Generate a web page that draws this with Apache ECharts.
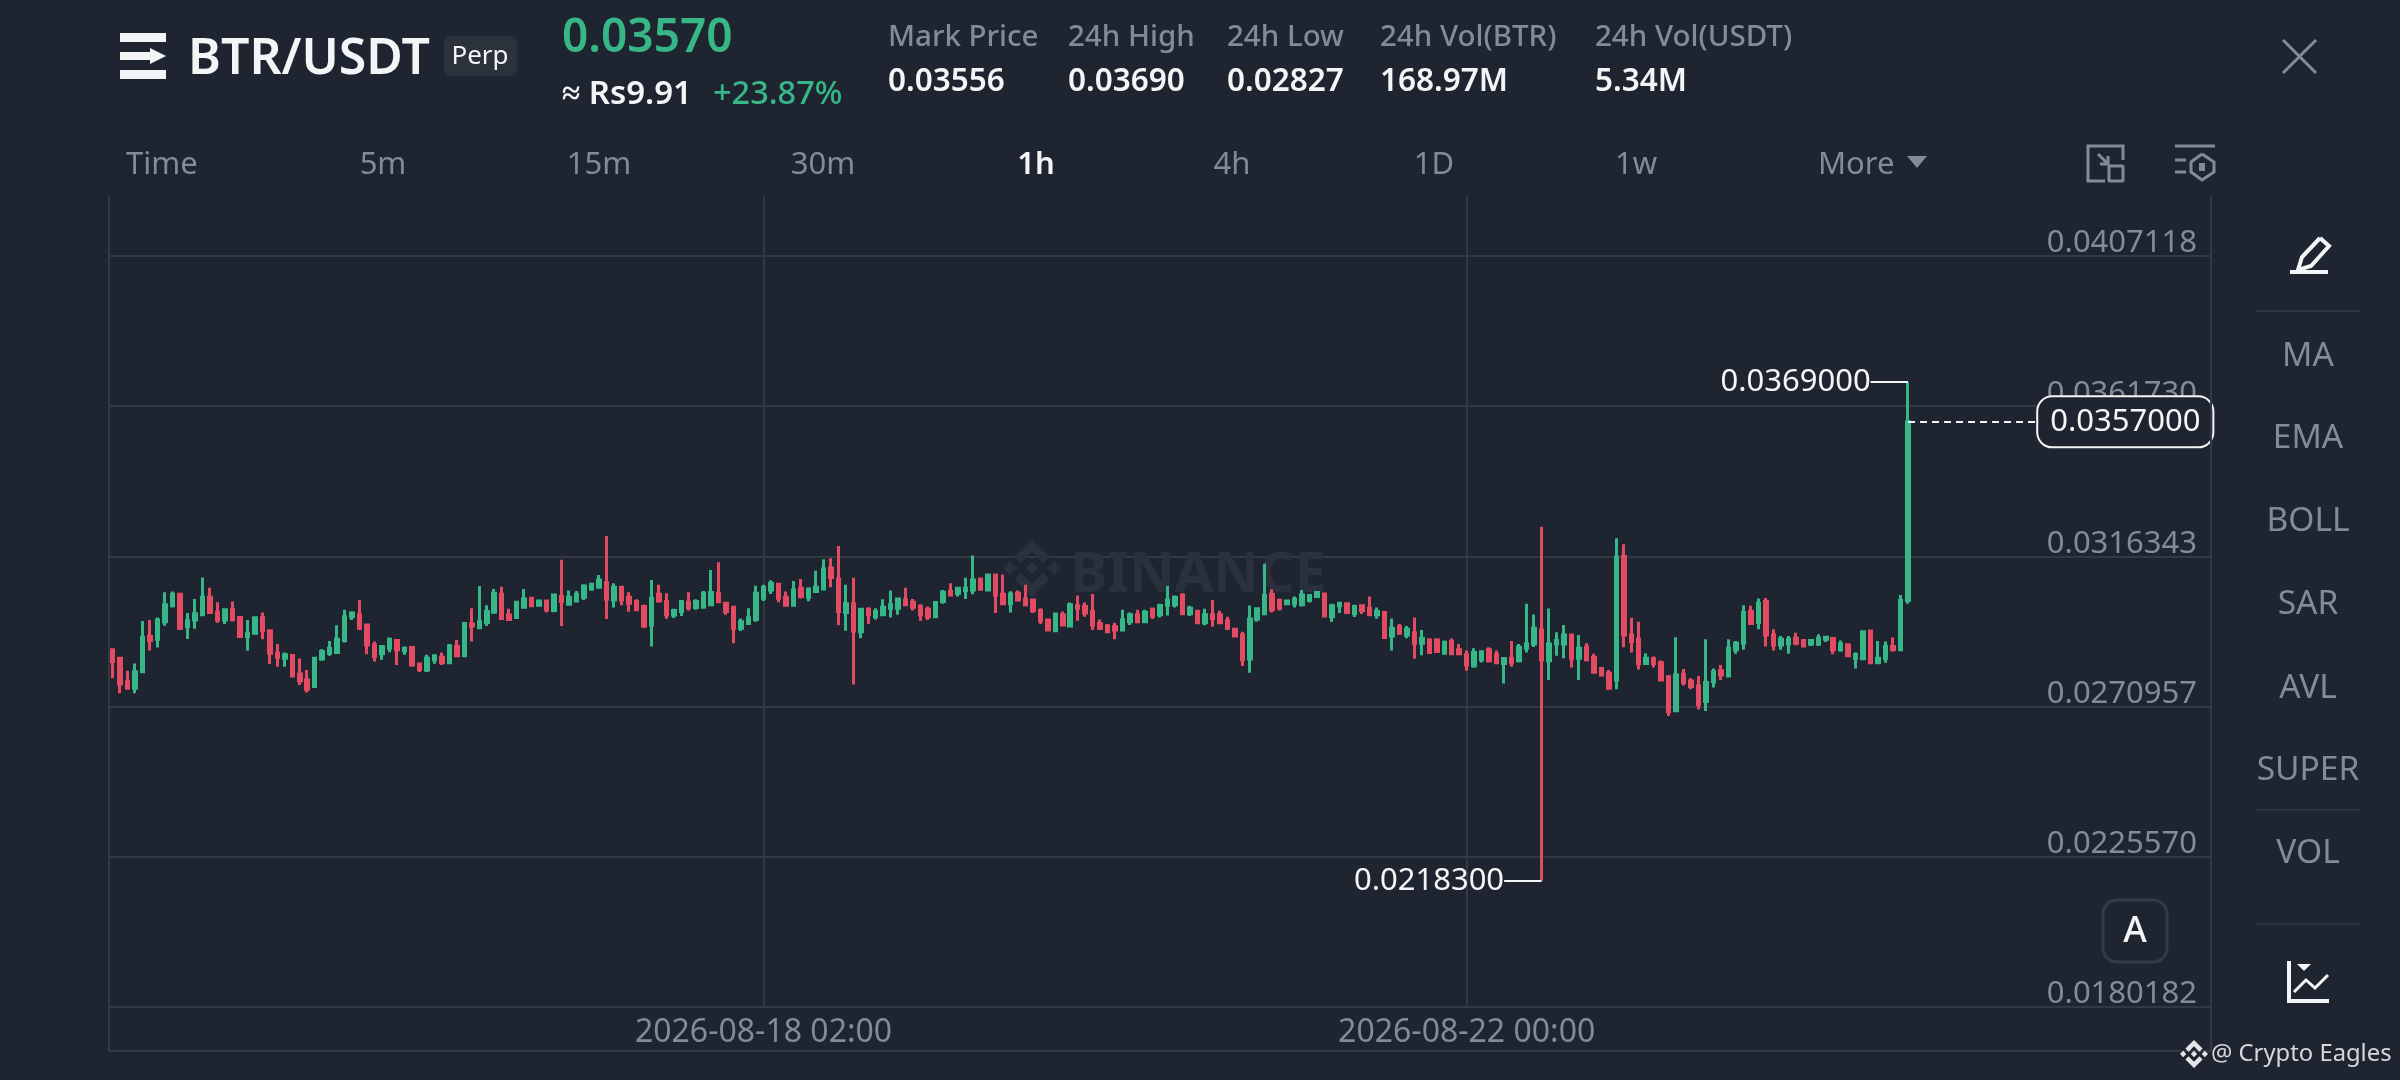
<!DOCTYPE html>
<html><head><meta charset="utf-8">
<style>html,body{margin:0;padding:0;background:#1E2530}#c{width:2400px;height:1080px}</style>
<script src="https://cdn.jsdelivr.net/npm/echarts@6/dist/echarts.min.js"></script>
</head><body><div id="c"></div>
<script>
const opens=[0.02881,0.02856,0.02785,0.02765,0.02815,0.02921,0.02913,0.02966,0.03014,0.03049,
0.02951,0.02971,0.02987,0.0304,0.02995,0.02971,0.03002,0.02979,0.02921,0.02931,
0.02979,0.02939,0.02871,0.02856,0.02864,0.02808,0.0279,0.0277,0.02853,0.02871,
0.02873,0.02909,0.02981,0.02987,0.02956,0.02896,0.02869,0.02886,0.02909,0.02878,
0.02888,0.02838,0.0282,0.02851,0.02859,0.02842,0.02891,0.02863,0.02959,0.02948,
0.02964,0.02995,0.03049,0.02986,0.02979,0.0301,0.03037,0.03016,0.03029,0.03,
0.03042,0.03019,0.03029,0.0304,0.03064,0.0307,0.03084,0.03032,0.0307,0.0304,
0.03027,0.03012,0.02956,0.03049,0.03027,0.02986,0.02997,0.03025,0.03009,0.0301,
0.03017,0.03052,0.03022,0.0301,0.02946,0.02961,0.02973,0.03037,0.03062,0.03079,
0.0304,0.03016,0.03067,0.0304,0.03057,0.03065,0.03128,0.03095,0.02994,0.0302,
0.02936,0.03004,0.02981,0.02987,0.03007,0.03007,0.03032,0.03025,0.03012,0.03004,
0.02981,0.03027,0.03057,0.03052,0.0306,0.03062,0.03095,0.03062,0.03107,0.03049,
0.0302,0.03052,0.03034,0.03032,0.03,0.02971,0.02939,0.02987,0.02953,0.03014,
0.03012,0.02997,0.02961,0.02953,0.02951,0.02941,0.02966,0.02987,0.02966,0.03004,
0.02987,0.03016,0.03017,0.03047,0.0299,0.02997,0.02963,0.02987,0.02987,0.02969,
0.02943,0.02926,0.02853,0.02974,0.0299,0.03049,0.0303,0.0302,0.0302,0.03017,
0.0303,0.03042,0.0305,0.02981,0.03014,0.0302,0.0299,0.03014,0.03007,0.02987,
0.02994,0.02923,0.02951,0.02926,0.02933,0.02901,0.02911,0.02911,0.02871,0.02906,
0.02881,0.02866,0.02833,0.02851,0.02881,0.02866,0.0284,0.02856,0.02848,0.02886,
0.02899,0.02941,0.02848,0.02899,0.02899,0.02926,0.02856,0.02889,0.02859,0.02825,
0.0281,0.0279,0.03163,0.02926,0.02913,0.0284,0.02854,0.02842,0.028,0.02697,
0.02807,0.02787,0.02772,0.02725,0.02785,0.02818,0.02802,0.02881,0.02901,0.02997,
0.02964,0.03027,0.02926,0.02896,0.02899,0.02916,0.02909,0.02899,0.02899,0.02913,
0.02915,0.02881,0.02896,0.02856,0.02854,0.02938,0.02842,0.02856,0.02891,0.02881,
0.0303];
const highs=[0.02886,0.02859,0.02818,0.0284,0.02968,0.02971,0.02979,0.03055,0.03057,0.03052,
0.02992,0.03035,0.031,0.03069,0.03025,0.03007,0.03027,0.02981,0.02971,0.02979,
0.02994,0.02941,0.02899,0.02873,0.02866,0.02855,0.0282,0.02859,0.02883,0.02908,
0.02955,0.03002,0.02998,0.03032,0.02961,0.02906,0.02895,0.02918,0.02914,0.02891,
0.02891,0.02842,0.02866,0.02868,0.02873,0.02899,0.02911,0.02964,0.03007,0.03074,
0.03016,0.03065,0.03072,0.03005,0.03029,0.03065,0.0304,0.03032,0.03032,0.03049,
0.03153,0.0306,0.03059,0.03079,0.03084,0.03107,0.03225,0.03082,0.03074,0.03055,
0.03034,0.03017,0.03092,0.03078,0.03052,0.03005,0.03032,0.03055,0.03034,0.03059,
0.03122,0.03146,0.03025,0.03014,0.02976,0.03007,0.03075,0.03078,0.03091,0.03082,
0.03057,0.03089,0.03095,0.0307,0.0312,0.03155,0.03158,0.03195,0.03078,0.03099,
0.03007,0.0301,0.03007,0.03034,0.0306,0.03037,0.03069,0.03035,0.03019,0.03012,
0.03027,0.03062,0.03082,0.03071,0.03099,0.03166,0.031,0.0311,0.03109,0.03109,
0.03058,0.0306,0.03078,0.03034,0.03007,0.02973,0.02992,0.02997,0.03024,0.03045,
0.03024,0.0305,0.02973,0.02959,0.02963,0.03002,0.02994,0.03002,0.03002,0.03009,
0.0302,0.03074,0.03045,0.03052,0.03014,0.03002,0.03005,0.03032,0.02999,0.02981,
0.02946,0.02936,0.03015,0.0301,0.03141,0.03064,0.03036,0.03032,0.03042,0.03062,
0.0305,0.03059,0.03052,0.0302,0.03025,0.03024,0.03017,0.03018,0.03042,0.03009,
0.02997,0.02976,0.02959,0.02953,0.02979,0.02941,0.02916,0.02916,0.02909,0.02915,
0.02899,0.02879,0.02886,0.02879,0.02889,0.02879,0.02859,0.02908,0.02899,0.0302,
0.02988,0.03253,0.03006,0.02934,0.02956,0.02928,0.02926,0.02901,0.02869,0.02828,
0.0282,0.03218,0.032,0.02978,0.02966,0.02871,0.02861,0.02849,0.02805,0.02919,
0.02823,0.02795,0.02802,0.02913,0.02825,0.02835,0.02913,0.02908,0.03016,0.03014,
0.03036,0.03038,0.02943,0.02923,0.02923,0.02933,0.02913,0.02913,0.02928,0.02921,
0.02918,0.02909,0.02901,0.02874,0.02939,0.02941,0.02908,0.02906,0.02918,0.03047,
0.0369];
const lows=[0.02795,0.0275,0.02765,0.0275,0.02812,0.02879,0.02888,0.02954,0.03009,0.02941,
0.02914,0.02945,0.02983,0.02992,0.02963,0.02959,0.02967,0.02917,0.02878,0.02929,
0.02913,0.02838,0.0283,0.0283,0.02798,0.02775,0.02752,0.02768,0.02848,0.02863,
0.02871,0.02903,0.02971,0.02941,0.02868,0.02846,0.02851,0.02874,0.02835,0.02866,
0.0283,0.02814,0.02814,0.02839,0.02835,0.02838,0.02859,0.02859,0.02906,0.02946,
0.02953,0.0299,0.02974,0.02973,0.02976,0.03009,0.0301,0.03013,0.02994,0.02995,
0.02953,0.03014,0.03026,0.03032,0.0306,0.03068,0.02974,0.03009,0.03016,0.02996,
0.03,0.02947,0.02891,0.03026,0.02975,0.02977,0.02983,0.02999,0.03002,0.03006,
0.03017,0.03022,0.02987,0.02901,0.02938,0.02957,0.02966,0.03029,0.0305,0.03025,
0.03014,0.03014,0.03036,0.03028,0.03054,0.03064,0.0307,0.02955,0.02939,0.02776,
0.02916,0.02959,0.02973,0.02983,0.02979,0.02987,0.03014,0.03,0.02969,0.02971,
0.02978,0.0302,0.03043,0.03042,0.03035,0.03049,0.03062,0.0306,0.02992,0.03017,
0.02994,0.03029,0.03015,0.02992,0.02959,0.02939,0.02936,0.02954,0.02949,0.02969,
0.02981,0.02941,0.02941,0.02932,0.02913,0.02938,0.02956,0.02962,0.02963,0.02974,
0.02979,0.02985,0.03009,0.02989,0.02983,0.02959,0.02955,0.02951,0.02959,0.02941,
0.0292,0.02832,0.02812,0.02966,0.02987,0.02994,0.03,0.03016,0.03009,0.03012,
0.03024,0.03039,0.02981,0.02965,0.02992,0.0299,0.0298,0.02989,0.02985,0.02975,
0.02915,0.02879,0.02928,0.02916,0.02854,0.02865,0.02871,0.02874,0.02867,0.02865,
0.02865,0.02818,0.02827,0.02843,0.02843,0.02838,0.02779,0.0283,0.02843,0.02873,
0.0289,0.02183,0.0279,0.02863,0.02856,0.02828,0.0279,0.02846,0.0281,0.02802,
0.02762,0.02762,0.02889,0.02873,0.02822,0.02835,0.02828,0.02788,0.02681,0.02694,
0.02773,0.02762,0.02701,0.02696,0.02767,0.0279,0.028,0.02869,0.02881,0.02956,
0.02943,0.02891,0.02879,0.02881,0.02869,0.02895,0.02888,0.02893,0.02893,0.02905,
0.02868,0.02875,0.02859,0.02825,0.02851,0.02838,0.02842,0.02842,0.02876,0.02881,
0.0302];
const closes=[0.02846,0.02778,0.02765,0.02815,0.02919,0.02909,0.02971,0.03017,0.03049,0.02946,
0.02969,0.0299,0.0304,0.02994,0.02971,0.03002,0.02973,0.02921,0.02931,0.02978,
0.02939,0.02871,0.02859,0.02866,0.02802,0.02788,0.02762,0.02856,0.02876,0.02886,
0.02913,0.02981,0.02992,0.02946,0.02896,0.02861,0.02891,0.02913,0.02881,0.02886,
0.02835,0.02822,0.02856,0.02863,0.02842,0.02893,0.02863,0.02961,0.02953,0.02966,
0.02997,0.03052,0.02976,0.02973,0.03025,0.03035,0.03014,0.03029,0.03002,0.03047,
0.03027,0.0304,0.03049,0.03074,0.03079,0.03092,0.03034,0.0307,0.03032,0.03022,
0.03002,0.02953,0.03037,0.03029,0.02987,0.03,0.03027,0.03009,0.03027,0.03052,
0.03054,0.03027,0.02997,0.02946,0.02966,0.02978,0.03052,0.0307,0.03082,0.03037,
0.03016,0.03062,0.03042,0.03064,0.0307,0.03125,0.031,0.02997,0.0302,0.02938,
0.03004,0.02987,0.02997,0.0301,0.03017,0.03035,0.03017,0.0301,0.02987,0.02981,
0.03024,0.03055,0.03047,0.03067,0.03067,0.03092,0.03064,0.03107,0.03047,0.0302,
0.0305,0.03032,0.03017,0.03,0.02969,0.02941,0.02989,0.02956,0.03017,0.03007,
0.02992,0.02956,0.02946,0.02936,0.02941,0.02971,0.02987,0.02966,0.02995,0.02983,
0.03015,0.03032,0.0304,0.0299,0.03007,0.02963,0.02987,0.02976,0.02963,0.02946,
0.02923,0.02851,0.02974,0.03005,0.03045,0.03002,0.03007,0.03029,0.03034,0.03047,
0.03045,0.03054,0.02983,0.03014,0.03022,0.02994,0.03012,0.03,0.02987,0.02997,
0.02918,0.02946,0.02931,0.02943,0.02901,0.02916,0.02873,0.02876,0.02904,0.02869,
0.02869,0.02835,0.02873,0.02875,0.02848,0.02842,0.02855,0.02842,0.02889,0.02899,
0.02946,0.02851,0.02899,0.02909,0.02926,0.02856,0.02886,0.02851,0.02813,0.02805,
0.02765,0.03161,0.02926,0.02906,0.02838,0.02856,0.0284,0.0279,0.02694,0.02805,
0.02782,0.0277,0.02715,0.02782,0.02815,0.02805,0.02886,0.02901,0.02994,0.02961,
0.03022,0.02926,0.02896,0.02913,0.02913,0.02901,0.02893,0.02909,0.02916,0.02919,
0.02881,0.02899,0.02863,0.02866,0.02936,0.02842,0.02856,0.02891,0.02881,0.0303,
0.0357];
const priceTicks=[0.0180182,0.0225570,0.0270957,0.0316343,0.0361730,0.0407118];
const timeTicks=['2026-08-18 02:00','2026-08-22 00:00'];
const highMark={index:240,value:0.0369,label:'0.0369000'};
const lowMark={index:191,value:0.02183,label:'0.0218300'};
const lastPrice={index:240,value:0.0357,label:'0.0357000'};
const tabs=['Time','5m','15m','30m','1h','4h','1D','1w'];
const indicators=['MA','EMA','BOLL','SAR','AVL','SUPER','VOL'];
const stats=[['Mark Price','0.03556'],['24h High','0.03690'],['24h Low','0.02827'],['24h Vol(BTR)','168.97M'],['24h Vol(USDT)','5.34M']];

const pad=n=>String(n).padStart(2,'0');
const categories=[];
for(let i=0;i<281;i++){const d=new Date(Date.UTC(2026,7,14,11+i));
  categories.push(d.getUTCFullYear()+'-'+pad(d.getUTCMonth()+1)+'-'+pad(d.getUTCDate())+' '+pad(d.getUTCHours())+':00');}
const candles=opens.map((o,i)=>[o,closes[i],lows[i],highs[i]]);

const BG='#1E2530',GRID='#333944',GREY='#838B97',WHITE='#F4F5F6',GREEN='#37B787',RED='#E34B62';
const FONT='"Noto Sans"';
const T=(x,y,text,size,fill,weight,align)=>({type:'text',z:20,style:{x,y,text,fill,font:(weight||400)+' '+size+'px '+FONT,textAlign:align||'left',textVerticalAlign:'middle'}});
const R=(x,y,w,h,fill,r)=>({type:'rect',z:20,shape:{x,y,width:w,height:h,r:r||0},style:{fill}});
const BOX=(x,y,w,h,stroke,r,lw)=>({type:'rect',z:20,shape:{x,y,width:w,height:h,r:r||0},style:{fill:'none',stroke,lineWidth:lw||2}});
const L=(x1,y1,x2,y2,stroke,lw)=>({type:'line',z:20,shape:{x1,y1,x2,y2},style:{stroke,lineWidth:lw||2}});
const P=(points,fill,z)=>({type:'polygon',z:z||20,shape:{points},style:{fill}});
const PL=(points,stroke,lw)=>({type:'polyline',z:20,shape:{points},style:{fill:'none',stroke,lineWidth:lw||3}});
const logoParts=[[[12,0],[19.34,7.34],[16.62,10.05],[12,5.42],[7.36,10.08],[4.64,7.36]],[[12,24],[19.34,16.64],[16.62,13.92],[12,18.58],[7.36,13.95],[4.64,16.66]],[[12,9.29],[14.7,12],[12,14.7],[9.27,12]],[[2.72,9.28],[5.41,12],[2.72,14.69],[0,12]],[[21.26,9.28],[24,12],[21.28,14.72],[18.57,12]]];
const LG=(x,y,s,fill,z)=>logoParts.map(pts=>P(pts.map(p=>[x+p[0]*s/24,y+p[1]*s/24]),fill,z));

const tabX=[126,383,599,823,1036,1232,1434,1636];
const statX=[888,1068,1227,1380,1595];
const indY=[356,438,521,604,688,770,853];
const els=[
  L(109,196,109,1051,GRID,2),L(2211,196,2211,1051,GRID,2),L(109,1051,2211,1051,GRID,2),
  R(120,33,46,9,WHITE),R(120,52,30,8,WHITE),P([[150,48],[166,56],[150,64]],WHITE),R(120,70,46,9,WHITE),
  T(188,60,'BTR/USDT',50,WHITE,600),
  R(444,36,73,40,'#2B323C',6),T(480,57,'Perp',26,WHITE,400,'center'),
  T(562,39,'0.03570',46,GREEN,600),
  T(562,95,'≈ Rs9.91',33,WHITE,600),
  T(713,95,'+23.87%',32.5,GREEN,500),
  L(2283,40,2316,73,GREY,3),L(2316,40,2283,73,GREY,3),
  T(1818,165,'More',31,GREY),P([[1907,156],[1927,156],[1917,168]],GREY),
  PL([[2123,160],[2123,146],[2088,146],[2088,181],[2105,181]],GREY,3),BOX(2109,166,14,15,GREY,1,3),PL([[2098,154],[2108,164]],GREY,3),PL([[2100,164],[2108,164],[2108,156]],GREY,3),
  L(2175,146,2215,146,GREY,3),L(2175,160,2186,160,GREY,3),L(2175,172,2186,172,GREY,3),
  PL([[2202,154],[2214,162],[2214,172],[2202,180],[2191,172],[2191,162],[2202,154]],GREY,3),R(2199,163,6,8,GREY),
  PL([[2320,238],[2329,246],[2311,266],[2298,270],[2302,257],[2320,238]],WHITE,4),L(2290,272,2328,272,WHITE,4),
  L(2256,311,2360,311,'#2C333D',2),L(2256,810,2360,810,'#2C333D',2),L(2256,924,2360,924,'#2C333D',2),
  BOX(2103,900,64,62,'#333B46',14,3),T(2135,932,'A',36,WHITE,500,'center'),
  PL([[2289,961],[2289,1001],[2329,1001]],WHITE,4),PL([[2294,992],[2306,980],[2315,988],[2328,975]],WHITE,3),P([[2297,964],[2311,964],[2304,971]],WHITE),
  ...LG(2180,1040,28,'#E4E6E9'),
  T(2211,1054,'@ Crypto Eagles',23.8,'#D5D8DC'),
  ...LG(1003,539,58,'#2A313C',1),
  {type:'text',z:1,style:{x:1070,y:576,text:'BINANCE',fill:'#2A313C',font:'700 56px '+FONT,textAlign:'left',textVerticalAlign:'middle'}}
];
tabs.forEach((t,i)=>els.push(T(tabX[i],165,t,31,t==='1h'?WHITE:GREY,t==='1h'?600:400,i===0?'left':'center')));
stats.forEach((s,i)=>{els.push(T(statX[i],38,s[0],29.5,GREY,500));els.push(T(statX[i],82,s[1],31.5,WHITE,600));});
indicators.forEach((t,i)=>els.push(T(2308,indY[i],t,33.5,GREY,400,'center')));

const chart=echarts.init(document.getElementById('c'),null,{renderer:'canvas'});
chart.setOption({
  animation:false,backgroundColor:BG,
  grid:{left:109,right:189,top:196,height:811,containLabel:false},
  xAxis:{type:'category',data:categories,boundaryGap:true,
    axisLine:{show:false},axisTick:{show:false,alignWithLabel:true,interval:(i,n)=>timeTicks.includes(n)},
    axisLabel:{interval:(i,n)=>timeTicks.includes(n),color:GREY,fontFamily:FONT,fontSize:32,margin:10,hideOverlap:false},
    splitLine:{show:true,alignWithLabel:true,interval:(i,n)=>timeTicks.includes(n),lineStyle:{color:GRID,width:2}}},
  yAxis:{type:'value',position:'right',min:0.0180182,max:0.0425242,scale:true,
    axisLine:{show:false},axisTick:{show:false,customValues:priceTicks},
    axisLabel:{customValues:priceTicks,inside:true,margin:14,color:GREY,fontFamily:FONT,fontSize:31,lineHeight:25,align:'right',verticalAlign:'bottom',showMinLabel:true,showMaxLabel:true,formatter:v=>v.toFixed(7)},
    splitLine:{show:true,lineStyle:{color:GRID,width:2}}},
  series:[{type:'candlestick',data:candles,barWidth:3,large:false,clip:false,
    itemStyle:{color:GREEN,color0:RED,borderColor:GREEN,borderColor0:RED,borderWidth:3},
    markLine:{silent:true,symbol:'none',animation:false,precision:7,z:10,
      data:[
        [{coord:[highMark.index-5.3,highMark.value],lineStyle:{color:WHITE,width:2,type:'solid'},label:{show:true,position:'start',formatter:highMark.label,color:WHITE,fontFamily:FONT,fontSize:31,distance:0,padding:[6,0,0,0]}},{coord:[highMark.index,highMark.value]}],
        [{coord:[lowMark.index-5.3,lowMark.value],lineStyle:{color:WHITE,width:2,type:'solid'},label:{show:true,position:'start',formatter:lowMark.label,color:WHITE,fontFamily:FONT,fontSize:31,distance:0,padding:[6,0,0,0]}},{coord:[lowMark.index,lowMark.value]}],
        [{coord:[lastPrice.index,lastPrice.value],lineStyle:{color:WHITE,width:2,type:[7,5]},label:{show:true,position:'end',formatter:lastPrice.label,color:WHITE,fontFamily:FONT,fontSize:31,distance:3,backgroundColor:BG,borderColor:WHITE,borderWidth:2,borderRadius:14,padding:[11,12,7,12]}},{coord:[lastPrice.index+16.5,lastPrice.value]}]
      ]}}],
  graphic:{elements:els}
});
</script></body></html>
